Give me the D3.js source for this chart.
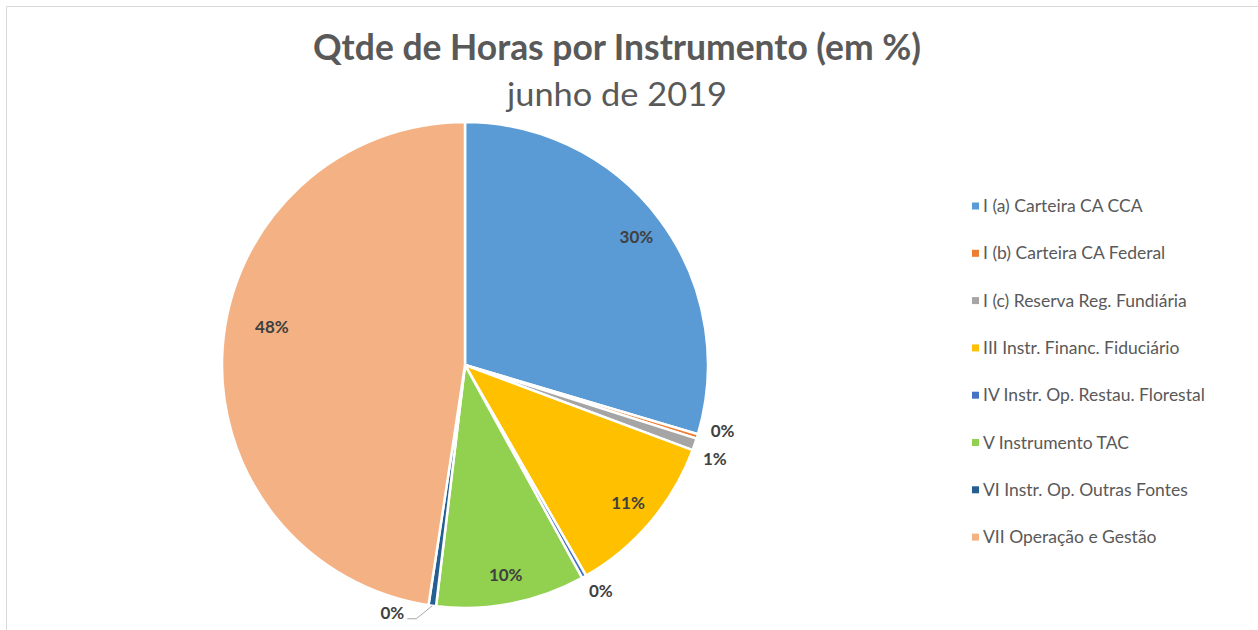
<!DOCTYPE html>
<html><head><meta charset="utf-8">
<script src="https://cdn.jsdelivr.net/npm/d3@7/dist/d3.min.js"></script>
<style>html,body{margin:0;padding:0;background:#fff;}svg{display:block;}</style>
</head><body>
<svg id="chart" width="1258" height="630"></svg>
<script>
const categories = ["I (a) Carteira CA CCA","I (b) Carteira CA Federal","I (c) Reserva Reg. Fundiária","III Instr. Financ. Fiduciário","IV Instr. Op. Restau. Florestal","V Instrumento TAC","VI Instr. Op. Outras Fontes","VII Operação e Gestão"];
const values = [29.6, 0.3, 0.8, 11.0, 0.3, 9.9, 0.5, 47.6];
const labels = ["30%","0%","1%","11%","0%","10%","0%","48%"];
const colors = ["#5B9BD5","#ED7D31","#A5A5A5","#FFC000","#4472C4","#92D050","#255E91","#F4B183"];
const title = "Qtde de Horas por Instrumento (em %)";
const subtitle = "junho de 2019";

const svg = d3.select("#chart");
const W = 1258, H = 630;
const font = "Lato, 'Open Sans', sans-serif";

// frame
svg.append("path").attr("d", `M6.5,${H} V6.5 H${W}`).attr("fill","none").attr("stroke","#d9d9d9").attr("stroke-width",1);

svg.append("text").attr("x",617).attr("y",60).attr("text-anchor","middle")
  .attr("font-family",font).attr("font-weight","bold").attr("font-size",36).attr("fill","#595959")
  .attr("textLength",608).attr("lengthAdjust","spacingAndGlyphs").text(title);
svg.append("text").attr("x",617).attr("y",106).attr("text-anchor","middle")
  .attr("font-family",font).attr("font-size",33).attr("fill","#595959")
  .attr("textLength",220).attr("lengthAdjust","spacingAndGlyphs").text(subtitle);

const cx = 465, cy = 365, R = 243;
const g = svg.append("g").attr("transform",`translate(${cx},${cy})`);
const pie = d3.pie().sort(null).value(d=>d);
const arcs = pie(values);
const arc = d3.arc().innerRadius(0).outerRadius(R);
g.selectAll("path.slice").data(arcs).join("path").attr("class","slice")
  .attr("d",arc).attr("fill",(d,i)=>colors[i]).attr("stroke","#fff").attr("stroke-width",2.5).attr("stroke-linejoin","round");

const inArc = d3.arc().innerRadius(R*0.88).outerRadius(R*0.88);
const pos = [];
arcs.forEach((d,i)=>{
  const mid = (d.startAngle+d.endAngle)/2;
  let x,y,anchor="middle";
  if (values[i] >= 2) {
    [x,y] = inArc.centroid(d);
    if (values[i] > 40) { const a = mid + 0.12, rr = R*0.81; x = rr*Math.sin(a); y = -rr*Math.cos(a); }
  } else if (mid > Math.PI) {
    const p0 = [R*Math.sin(mid), -R*Math.cos(mid)];
    const p1 = [p0[0]-16, p0[1]+13];
    g.append("polyline").attr("points",`${p0} ${p1} ${p1[0]-9},${p1[1]}`)
      .attr("fill","none").attr("stroke","#a6a6a6").attr("stroke-width",1);
    x = p1[0]-12; y = p1[1]-6; anchor = "end";
  } else {
    const rr = R+14;
    x = rr*Math.sin(mid); y = -rr*Math.cos(mid); anchor = "start";
    if (mid > Math.PI*0.75) { x -= 2; y += 2; }
  }
  pos.push({i,x,y,anchor,small: values[i] < 2 && mid < Math.PI*0.7});
});
// separate crowded small labels on the right
const crowd = pos.filter(p=>p.small).sort((a,b)=>a.y-b.y);
for (let k=1;k<crowd.length;k++){
  const gap = crowd[k].y - crowd[k-1].y;
  if (gap < 28) { const s = (28-gap)/2; crowd[k-1].y -= s; crowd[k].y += s; crowd[k].x -= 5; }
}
pos.forEach(p=>{
  g.append("text").attr("x",p.x).attr("y",p.y).attr("dy","0.35em").attr("text-anchor",p.anchor)
    .attr("font-family",font).attr("font-size",17).attr("font-weight","bold")
    .attr("fill","#404040").text(labels[p.i]);
});

// legend
const lg = svg.append("g").attr("transform","translate(972,206)");
const rowH = 47.3;
categories.forEach((c,i)=>{
  const row = lg.append("g").attr("transform",`translate(0,${i*rowH})`);
  row.append("rect").attr("x",0).attr("y",-3.5).attr("width",7).attr("height",7).attr("fill",colors[i]);
  row.append("text").attr("x",11).attr("y",0).attr("dy","0.35em").attr("font-family",font)
    .attr("font-size",17.5).attr("fill","#595959").text(c);
});
</script>
</body></html>
